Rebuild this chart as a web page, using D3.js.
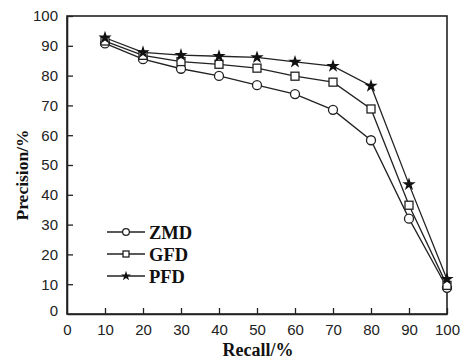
<!DOCTYPE html>
<html><head><meta charset="utf-8">
<script src="https://cdn.jsdelivr.net/npm/d3@7"></script>
<style>body{margin:0;background:#fff}svg{display:block}</style>
</head><body>
<svg id="c" width="473" height="361"></svg>
<script>
const recall = [10,20,30,40,50,60,70,80,90,100];
const zmd = [90.8,85.5,82.3,79.9,76.8,73.8,68.5,58.3,32,8.8];
const gfd = [91.6,86.8,84.7,83.8,82.5,79.8,77.8,68.8,36.5,9.6];
const pfd = [92.7,87.8,86.9,86.5,86.1,84.6,83.2,76.5,43.5,11.7];
const seriesNames = ["ZMD","GFD","PFD"];
const markerTypes = ["circle","square","star"];
const xTicks = [0,10,20,30,40,50,60,70,80,90,100];
const yTicks = [0,10,20,30,40,50,60,70,80,90,100];

const svg = d3.select("#c");
const L=67,R=447,T=16,B=314;
const x = d3.scaleLinear().domain([0,100]).range([L,R]);
const y = d3.scaleLinear().domain([0,100]).range([B,T]);
const ink = "#222";

// frame
svg.append("rect").attr("x",L).attr("y",T).attr("width",R-L).attr("height",B-T)
  .attr("fill","none").attr("stroke",ink).attr("stroke-width",1.6);

const xa = svg.append("g").attr("transform",`translate(0,${B})`)
  .call(d3.axisBottom(x).tickValues(xTicks).tickSizeInner(-6).tickSizeOuter(0).tickPadding(10));
const ya = svg.append("g").attr("transform",`translate(${L},0)`)
  .call(d3.axisLeft(y).tickValues(yTicks).tickSizeInner(-6).tickSizeOuter(0).tickPadding(9));
[xa,ya].forEach(g=>{
  g.select(".domain").attr("stroke",ink).attr("stroke-width",1.6);
  g.selectAll(".tick line").attr("stroke",ink).attr("stroke-width",1.3);
  g.selectAll("text").attr("font-family","'Liberation Sans',Arial,sans-serif").attr("font-size",15).attr("fill","#222");
});
xa.selectAll(".tick").filter(d=>d===0).select("line").remove();
ya.selectAll(".tick").filter(d=>d===0).select("line").remove();
ya.selectAll(".tick").filter(d=>d===0).select("text").attr("dy","0.1em");

svg.append("text").attr("x",258).attr("y",356).attr("text-anchor","middle")
  .attr("font-family","'Liberation Serif','Times New Roman',serif").attr("font-weight","bold")
  .attr("font-size",18).attr("fill","#111").text("Recall/%");
svg.append("text").attr("transform","translate(28,175) rotate(-90)").attr("text-anchor","middle")
  .attr("font-family","'Liberation Serif','Times New Roman',serif").attr("font-weight","bold")
  .attr("font-size",17.5).attr("fill","#111").text("Precision/%");

function marker(g, type, cx, cy, s){
  if(type==="circle"){
    g.append("circle").attr("cx",cx).attr("cy",cy).attr("r",4.5*s).attr("fill","#fff").attr("stroke",ink).attr("stroke-width",1.3);
  } else if(type==="square"){
    const h=4*s;
    g.append("rect").attr("x",cx-h).attr("y",cy-h).attr("width",2*h).attr("height",2*h).attr("fill","#fff").attr("stroke",ink).attr("stroke-width",1.3);
  } else {
    g.append("path").attr("d",d3.symbol(d3.symbolStar,55*s*s)()).attr("transform",`translate(${cx},${cy})`).attr("fill","#111");
  }
}

const data = [zmd,gfd,pfd];
const line = d3.line().x((d,i)=>x(recall[i])).y(d=>y(d));
data.forEach((vals,k)=>{
  svg.append("path").attr("d",line(vals)).attr("fill","none").attr("stroke",ink).attr("stroke-width",1.3);
});
data.forEach((vals,k)=>{
  const g = svg.append("g");
  vals.forEach((v,i)=>marker(g, markerTypes[k], x(recall[i]), y(v), 1));
});

// legend
const legY=[232,254,276];
seriesNames.forEach((n,k)=>{
  const g=svg.append("g");
  g.append("line").attr("x1",107).attr("x2",145).attr("y1",legY[k]).attr("y2",legY[k]).attr("stroke",ink).attr("stroke-width",1.3);
  marker(g, markerTypes[k], 126, legY[k], 0.75);
  g.append("text").attr("x",149).attr("y",legY[k]).attr("dy","0.36em")
    .attr("font-family","'Liberation Serif','Times New Roman',serif").attr("font-weight","bold")
    .attr("font-size",18.5).attr("fill","#111").text(n);
});
</script>
</body></html>
